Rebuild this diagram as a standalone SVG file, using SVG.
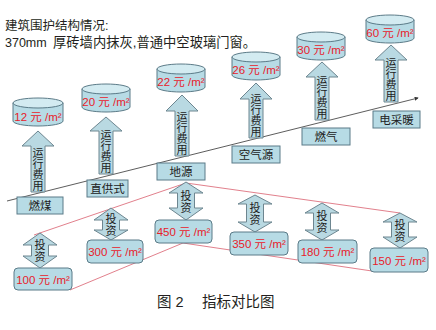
<svg xmlns="http://www.w3.org/2000/svg" width="436" height="330" viewBox="0 0 436 330">
<defs>
<marker id="dot" viewBox="0 0 6 6" refX="5" refY="3" markerWidth="5" markerHeight="5" orient="auto"><path d="M0,0 L6,3 L0,6 Z" fill="#333"/></marker>
</defs>
<style>
text{font-family:"Liberation Sans","Noto Sans CJK SC",sans-serif;}
.hdr{font-size:12.5px;fill:#231f20;}
.cap{font-size:14.5px;fill:#231f20;}
.body{fill:#b7dbe5;stroke:#5b7b88;stroke-width:1;}
.top{fill:#d3ebf1;stroke:#5b7b88;stroke-width:1;}
.arr{fill:#b9d9e2;stroke:#6d8690;stroke-width:1;}
.box{fill:#b7dbe5;stroke:#5b7b88;stroke-width:1;}
.val{font-size:11.5px;fill:#e8202a;text-anchor:middle;}
.lbl{font-size:11.5px;fill:#222;text-anchor:middle;}
.vt{font-size:11px;fill:#222;text-anchor:middle;}
.vt2{font-size:11px;fill:#222;text-anchor:middle;}
.trend{stroke:#333;stroke-width:0.8;fill:none;}
.red{stroke:#d9606e;stroke-width:0.8;fill:none;}
</style>
<rect width="436" height="330" fill="#fff"/>
<text class="hdr" x="5" y="30">建筑围护结构情况:</text>
<text class="hdr" y="47"><tspan x="5">370mm </tspan><tspan x="53" style="font-size:13.3px">厚砖墙内抹灰,普通中空玻璃门窗。</tspan></text>

<g id="connectors">
<line class="trend" x1="7" y1="201" x2="418" y2="98" marker-end="url(#dot)"/>
<polyline class="red" points="34,235 186,183 400,213"/>
<polyline class="red" points="70,290 183,243 372,271"/>
</g>

<g id="cost-coal">
<path class="body" d="M13,103 L13,121 A25,5 0 0 0 63,121 L63,103 Z"/>
<ellipse class="top" cx="38" cy="103" rx="25" ry="5"/>
<text class="val" x="38" y="121">12 元 /m²</text>
<polygon class="arr" points="38,131 54,146 45,146 45,192 31,192 31,146 22,146"/>
<text class="vt"><tspan x="38" y="157">运</tspan><tspan x="38" y="168">行</tspan><tspan x="38" y="179">费</tspan><tspan x="38" y="190">用</tspan></text>
</g>
<g id="cost-direct">
<path class="body" d="M82,89 L82,107 A24,5 0 0 0 130,107 L130,89 Z"/>
<ellipse class="top" cx="106" cy="89" rx="24" ry="5"/>
<text class="val" x="106" y="106">20 元 /m²</text>
<polygon class="arr" points="106,117 122,131 113,131 113,174 99,174 99,131 90,131"/>
<text class="vt"><tspan x="106" y="139">运</tspan><tspan x="106" y="150">行</tspan><tspan x="106" y="161">费</tspan><tspan x="106" y="172">用</tspan></text>
</g>
<g id="cost-ground">
<path class="body" d="M157,69 L157,87 A24,5 0 0 0 205,87 L205,69 Z"/>
<ellipse class="top" cx="181" cy="69" rx="24" ry="5"/>
<text class="val" x="181" y="86">22 元 /m²</text>
<polygon class="arr" points="182,95 198,111 189,111 189,156 175,156 175,111 166,111"/>
<text class="vt"><tspan x="182" y="121">运</tspan><tspan x="182" y="132">行</tspan><tspan x="182" y="143">费</tspan><tspan x="182" y="154">用</tspan></text>
</g>
<g id="cost-air">
<path class="body" d="M232,57 L232,75 A24,5 0 0 0 280,75 L280,57 Z"/>
<ellipse class="top" cx="256" cy="57" rx="24" ry="5"/>
<text class="val" x="256" y="74">26 元 /m²</text>
<polygon class="arr" points="256,83 272,99 263,99 263,138 249,138 249,99 240,99"/>
<text class="vt"><tspan x="256" y="103">运</tspan><tspan x="256" y="114">行</tspan><tspan x="256" y="125">费</tspan><tspan x="256" y="136">用</tspan></text>
</g>
<g id="cost-gas">
<path class="body" d="M297,37 L297,55 A24,5 0 0 0 345,55 L345,37 Z"/>
<ellipse class="top" cx="321" cy="37" rx="24" ry="5"/>
<text class="val" x="321" y="54">30 元 /m²</text>
<polygon class="arr" points="322,62 338,77 329,77 329,120 315,120 315,77 306,77"/>
<text class="vt"><tspan x="322" y="85">运</tspan><tspan x="322" y="96">行</tspan><tspan x="322" y="107">费</tspan><tspan x="322" y="118">用</tspan></text>
</g>
<g id="cost-electric">
<path class="body" d="M366,20 L366,38 A24,5 0 0 0 414,38 L414,20 Z"/>
<ellipse class="top" cx="390" cy="20" rx="24" ry="5"/>
<text class="val" x="390" y="37">60 元 /m²</text>
<polygon class="arr" points="391,45 407,60 398,60 398,102 384,102 384,60 375,60"/>
<text class="vt"><tspan x="391" y="67">运</tspan><tspan x="391" y="78">行</tspan><tspan x="391" y="89">费</tspan><tspan x="391" y="100">用</tspan></text>
</g>

<g id="name-coal"><rect class="box" x="17" y="197" width="46" height="17"/><text class="lbl" x="40" y="210">燃煤</text></g>
<g id="name-direct"><rect class="box" x="87" y="180" width="41" height="17"/><text class="lbl" x="107.5" y="193">直供式</text></g>
<g id="name-ground"><rect class="box" x="157" y="163" width="48" height="17"/><text class="lbl" x="181" y="176">地源</text></g>
<g id="name-air"><rect class="box" x="232" y="146" width="48" height="17"/><text class="lbl" x="256" y="159">空气源</text></g>
<g id="name-gas"><rect class="box" x="302" y="128" width="48" height="17"/><text class="lbl" x="326" y="141">燃气</text></g>
<g id="name-electric"><rect class="box" x="373" y="111" width="47" height="17"/><text class="lbl" x="396.5" y="124">电采暖</text></g>

<g id="inv-100">
<polygon class="arr" points="40,233 57,245 48.5,245 48.5,256 57,256 40,268 23,256 31.5,256 31.5,245 23,245"/>
<text class="vt2"><tspan x="40" y="249">投</tspan><tspan x="40" y="261">资</tspan></text>
<rect class="box" x="14" y="268" width="58" height="22" rx="4"/>
<text class="val" x="43" y="284">100 元 /m²</text>
</g>
<g id="inv-300">
<polygon class="arr" points="111,208 128,220 119.5,220 119.5,230 128,230 111,240 94,230 102.5,230 102.5,220 94,220"/>
<text class="vt2"><tspan x="111" y="223">投</tspan><tspan x="111" y="235">资</tspan></text>
<rect class="box" x="87" y="240" width="56" height="23" rx="4"/>
<text class="val" x="115" y="256">300 元 /m²</text>
</g>
<g id="inv-450">
<polygon class="arr" points="186,182 203,193 194.5,193 194.5,208 203,208 186,220 169,208 177.5,208 177.5,193 169,193"/>
<text class="vt2"><tspan x="186" y="200">投</tspan><tspan x="186" y="212">资</tspan></text>
<rect class="box" x="155" y="220" width="57" height="23" rx="4"/>
<text class="val" x="183.5" y="236">450 元 /m²</text>
</g>
<g id="inv-350">
<polygon class="arr" points="255,195 272,204 263.5,204 263.5,222 272,222 255,232 238,222 246.5,222 246.5,204 238,204"/>
<text class="vt2"><tspan x="255" y="212">投</tspan><tspan x="255" y="224">资</tspan></text>
<rect class="box" x="230" y="232" width="58" height="23" rx="4"/>
<text class="val" x="259" y="248">350 元 /m²</text>
</g>
<g id="inv-180">
<polygon class="arr" points="322,203 339,213 330.5,213 330.5,230 339,230 322,240 305,230 313.5,230 313.5,213 305,213"/>
<text class="vt2"><tspan x="322" y="220">投</tspan><tspan x="322" y="232">资</tspan></text>
<rect class="box" x="298" y="240" width="59" height="23" rx="4"/>
<text class="val" x="327.5" y="256">180 元 /m²</text>
</g>
<g id="inv-150">
<polygon class="arr" points="400,213 417,222 408.5,222 408.5,237 417,237 400,248 383,237 391.5,237 391.5,222 383,222"/>
<text class="vt2"><tspan x="400" y="229">投</tspan><tspan x="400" y="241">资</tspan></text>
<rect class="box" x="370" y="248" width="58" height="24" rx="4"/>
<text class="val" x="399" y="265">150 元 /m²</text>
</g>

<text class="cap" y="307"><tspan x="157">图 2</tspan><tspan x="202">指标对比图</tspan></text>
</svg>
